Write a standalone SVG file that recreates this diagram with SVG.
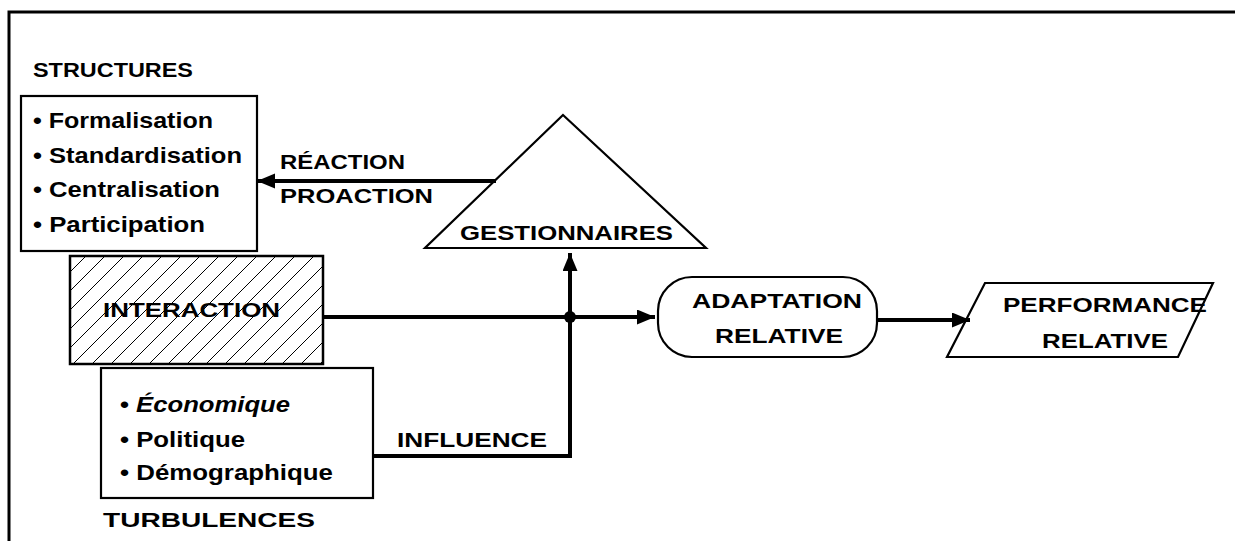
<svg xmlns="http://www.w3.org/2000/svg" width="1235" height="541" viewBox="0 0 1235 541">
<style>
text{font-family:"Liberation Sans",Arial,sans-serif;font-weight:bold;fill:#000}
.lbl{font-size:21px}
.item{font-size:22px}
.box{fill:#fff;stroke:#000;stroke-width:2.2}
.conn{fill:none;stroke:#000;stroke-width:4}
</style>
<defs>
<marker id="arr" markerUnits="userSpaceOnUse" markerWidth="20" markerHeight="16" refX="18" refY="7.5" orient="auto">
<path d="M0,0 L18,7.5 L0,15 z" fill="#000"/>
</marker>
<pattern id="hatch" patternUnits="userSpaceOnUse" width="19" height="19">
<path d="M-1,1 L1,-1 M0,19 L19,0 M18,20 L20,18" stroke="#000" stroke-width="1"/>
</pattern>
</defs>
<rect width="1235" height="541" fill="#fff"/>
<path d="M9,541 L9,12 L1235,12" fill="none" stroke="#000" stroke-width="3"/>

<g id="structures">
<text class="lbl" x="33" y="77" textLength="160" lengthAdjust="spacingAndGlyphs">STRUCTURES</text>
<rect class="box" x="21" y="96" width="236" height="155"/>
<text class="item" x="33" y="128" textLength="180" lengthAdjust="spacingAndGlyphs">• Formalisation</text>
<text class="item" x="33" y="163" textLength="209" lengthAdjust="spacingAndGlyphs">• Standardisation</text>
<text class="item" x="33" y="197" textLength="187" lengthAdjust="spacingAndGlyphs">• Centralisation</text>
<text class="item" x="33" y="232" textLength="172" lengthAdjust="spacingAndGlyphs">• Participation</text>
</g>

<g id="interaction">
<rect x="70" y="256" width="253" height="108" fill="url(#hatch)" stroke="#000" stroke-width="2.5"/>
<text class="lbl" x="103" y="317" textLength="177" lengthAdjust="spacingAndGlyphs">INTERACTION</text>
</g>

<g id="turbulences">
<rect class="box" x="101" y="368" width="272" height="130"/>
<text class="item" x="120" y="412" textLength="170" lengthAdjust="spacingAndGlyphs">• <tspan font-style="italic">Économique</tspan></text>
<text class="item" x="120" y="447" textLength="125" lengthAdjust="spacingAndGlyphs">• Politique</text>
<text class="item" x="120" y="480" textLength="213" lengthAdjust="spacingAndGlyphs">• Démographique</text>
<text class="lbl" x="103" y="527" textLength="212" lengthAdjust="spacingAndGlyphs">TURBULENCES</text>
</g>

<g id="gestionnaires">
<polygon class="box" points="563,115 706,248 425,248"/>
<text class="lbl" x="460" y="240" textLength="213" lengthAdjust="spacingAndGlyphs">GESTIONNAIRES</text>
</g>

<g id="adaptation">
<rect class="box" x="658" y="277" width="219" height="80" rx="34" ry="34"/>
<text class="lbl" x="692" y="308" textLength="170" lengthAdjust="spacingAndGlyphs">ADAPTATION</text>
<text class="lbl" x="715" y="343" textLength="128" lengthAdjust="spacingAndGlyphs">RELATIVE</text>
</g>

<g id="performance">
<polygon class="box" points="985,283 1213,283 1178,357 947,357"/>
<text class="lbl" x="1003" y="312" textLength="204" lengthAdjust="spacingAndGlyphs">PERFORMANCE</text>
<text class="lbl" x="1042" y="348" textLength="126" lengthAdjust="spacingAndGlyphs">RELATIVE</text>
</g>

<g id="connectors">
<path class="conn" d="M496,181 L257,181" marker-end="url(#arr)"/>
<text class="lbl" x="280" y="169" textLength="125" lengthAdjust="spacingAndGlyphs">RÉACTION</text>
<text class="lbl" x="280" y="203" textLength="153" lengthAdjust="spacingAndGlyphs">PROACTION</text>
<path class="conn" d="M323,317 L655,317" marker-end="url(#arr)"/>
<path class="conn" d="M373,456 L570,456 L570,253" marker-end="url(#arr)"/>
<text class="lbl" x="397" y="447" textLength="150" lengthAdjust="spacingAndGlyphs">INFLUENCE</text>
<circle cx="570" cy="317" r="6" fill="#000"/>
<path class="conn" d="M877,320 L970,320" marker-end="url(#arr)"/>
</g>
</svg>
